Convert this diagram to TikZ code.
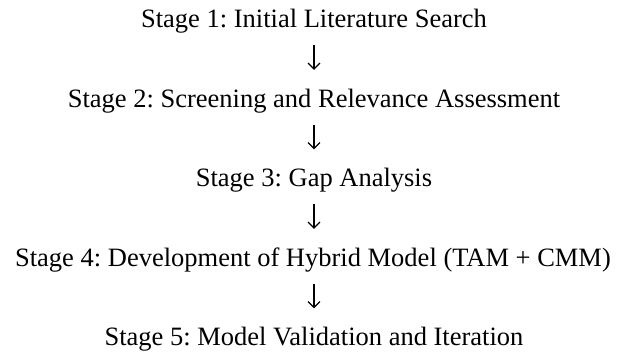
\documentclass[tikz,border=0pt]{standalone}
\usepackage{fontspec}
\setmainfont{Liberation Serif}
\usetikzlibrary{arrows.meta}
\frenchspacing
\tikzset{
  stage/.style={inner sep=0pt, anchor=base, text height=17.5pt, text depth=0pt,
    font=\fontsize{26.5}{32}\selectfont},
  flow/.style={line width=1.1pt, -{Straight Barb[length=6pt,width=12pt]},
    shorten <=17pt, shorten >=20pt}
}
\begin{document}
\begin{tikzpicture}[x=1pt,y=-1pt]
\useasboundingbox (0,0) rectangle (621,352);
\node[stage] (s1) at (314,28) {Stage 1: Initial Literature Search};
\node[stage] (s2) at (314,107.5) {Stage 2: Screening and Relevance Assessment};
\node[stage] (s3) at (314,187) {Stage 3: Gap Analysis};
\node[stage] (s4) at (313,266.5) {Stage 4: Development of Hybrid Model (TAM + CMM)};
\node[stage] (s5) at (314,346) {Stage 5: Model Validation and Iteration};
\draw[flow] (s1) -- (s2);
\draw[flow] (s2) -- (s3);
\draw[flow] (s3) -- (s4.north -| s3);
\draw[flow] (s4.south -| s5) -- (s5);
\end{tikzpicture}
\end{document}
